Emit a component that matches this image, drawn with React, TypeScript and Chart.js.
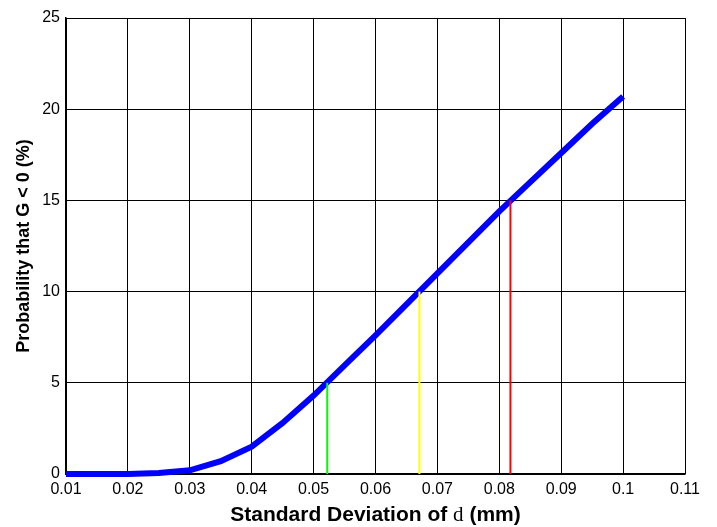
import React, { useEffect, useRef } from "react";
import { Chart, registerables } from "chart.js";

Chart.register(...registerables);

const sigma = [0.01, 0.015, 0.02, 0.025, 0.03, 0.035, 0.04, 0.045, 0.05, 0.055, 0.06, 0.065, 0.07, 0.075, 0.08, 0.085, 0.09, 0.095, 0.1];
const prob = [0, 0, 0, 0.05, 0.2, 0.7, 1.5, 2.8, 4.3, 5.95, 7.6, 9.3, 11.0, 12.7, 14.4, 16.0, 17.6, 19.2, 20.7];

const thresholdX = [0.0522, 0.0671, 0.0818];
const thresholdY = [5, 10, 15];
const thresholdColors = ["#00ff00", "#ffff00", "#ff0000"];

const xTicks = [0.01, 0.02, 0.03, 0.04, 0.05, 0.06, 0.07, 0.08, 0.09, 0.1, 0.11];
const yTicks = [0, 5, 10, 15, 20, 25];

const xTitleParts = ["Standard Deviation of ", "d", " (mm)"];
const yTitle = "Probability that G < 0 (%)";

const SANS = "'Liberation Sans', Arial, sans-serif";
const SERIF = "'Liberation Serif', 'Times New Roman', serif";

const titlePlugin = {
  id: "axisTitles",
  afterDraw(chart: any) {
    const ctx = chart.ctx;
    const area = chart.chartArea;
    ctx.save();
    ctx.fillStyle = "#000";
    ctx.textBaseline = "alphabetic";
    ctx.textAlign = "left";
    const fonts = [`bold 21px ${SANS}`, `21px ${SERIF}`, `bold 21px ${SANS}`];
    let total = 0;
    const widths = xTitleParts.map((p, i) => {
      ctx.font = fonts[i];
      const w = ctx.measureText(p).width;
      total += w;
      return w;
    });
    let x = (area.left + area.right) / 2 - total / 2;
    xTitleParts.forEach((p, i) => {
      ctx.font = fonts[i];
      ctx.fillText(p, x, 521);
      x += widths[i];
    });
    ctx.translate(29, (area.top + area.bottom) / 2);
    ctx.rotate(-Math.PI / 2);
    ctx.textAlign = "center";
    ctx.font = `bold 18px ${SANS}`;
    ctx.fillText(yTitle, 0, 0);
    ctx.restore();
  },
};

export default function App() {
  const ref = useRef<HTMLCanvasElement | null>(null);
  useEffect(() => {
    if (!ref.current) return;
    const datasets: any[] = [
      {
        label: "P",
        data: sigma.map((s, i) => ({ x: s, y: prob[i] })),
        borderColor: "#0000ff",
        borderWidth: 6,
        pointRadius: 0,
        showLine: true,
        fill: false,
        tension: 0,
        clip: false,
        order: 2,
      },
      ...thresholdX.map((tx, i) => ({
        label: "t" + i,
        data: [
          { x: tx, y: 0 },
          { x: tx, y: thresholdY[i] },
        ],
        borderColor: thresholdColors[i],
        borderWidth: 2,
        pointRadius: 0,
        showLine: true,
        fill: false,
        order: 1,
      })),
    ];
    const chart = new Chart(ref.current, {
      type: "scatter",
      data: { datasets },
      options: {
        animation: false,
        responsive: false,
        layout: { padding: { top: 18, right: 32, left: 0, bottom: 0 } },
        plugins: { legend: { display: false }, tooltip: { enabled: false } },
        scales: {
          x: {
            type: "linear",
            min: 0.01,
            max: 0.11,
            afterBuildTicks: (axis: any) => {
              axis.ticks = xTicks.map((v) => ({ value: v }));
            },
            afterFit: (axis: any) => {
              axis.height = 53;
            },
            ticks: {
              color: "#000",
              font: { family: SANS, size: 16 },
              padding: 6,
              maxRotation: 0,
              autoSkip: false,
              callback: (v: any) => String(Number(Number(v).toFixed(3))),
            },
            grid: { color: "#000", lineWidth: 1, drawTicks: false },
            border: { color: "#000", width: 1.5 },
          },
          y: {
            type: "linear",
            min: 0,
            max: 25,
            afterBuildTicks: (axis: any) => {
              axis.ticks = yTicks.map((v) => ({ value: v }));
            },
            afterFit: (axis: any) => {
              axis.width = 66;
            },
            ticks: {
              color: "#000",
              font: { family: SANS, size: 16 },
              padding: 6,
              autoSkip: false,
            },
            grid: { color: "#000", lineWidth: 1, drawTicks: false },
            border: { color: "#000", width: 1.5 },
          },
        },
      },
      plugins: [titlePlugin],
    });
    return () => chart.destroy();
  }, []);
  return (
    <div style={{ position: "absolute", left: 0, top: 0, width: 717, height: 527, background: "#fff" }}>
      <canvas ref={ref} width={717} height={527} style={{ display: "block" }} />
    </div>
  );
}
